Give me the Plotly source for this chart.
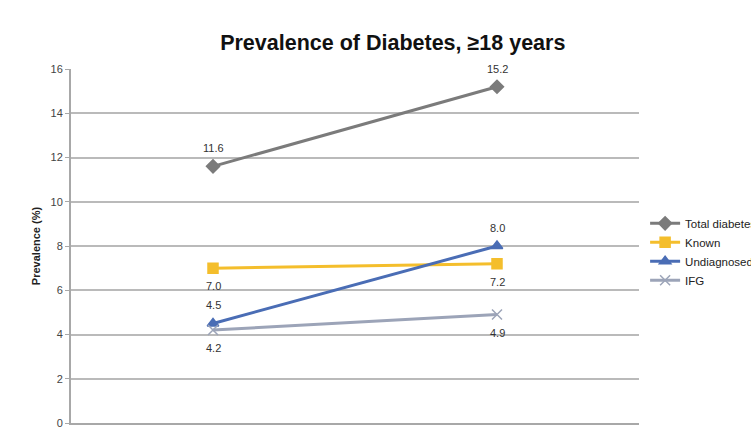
import plotly.graph_objects as go

surveys = ["NHMS III (2006)", "NHMS 2011"]
total_diabetes = [11.6, 15.2]
known = [7.0, 7.2]
undiagnosed = [4.5, 8.0]
ifg = [4.2, 4.9]

# name, values, colour, marker symbol, label above (+1) or below (-1)
series = [
    ("Total diabetes", total_diabetes, "#7b7b7b", "diamond", 1),
    ("Known", known, "#f4be2c", "square", -1),
    ("Undiagnosed", undiagnosed, "#4a6db5", "triangle-up", 1),
    ("IFG", ifg, "#9ca4b8", "x-thin", -1),
]

fig = go.Figure()
annotations = []
for name, vals, color, symbol, side in series:
    fig.add_trace(go.Scatter(
        x=surveys, y=vals, name=name, mode="lines+markers",
        line=dict(color=color, width=3),
        marker=dict(symbol=symbol, size=10, color=color,
                    line=dict(color=color, width=1.5)),
        cliponaxis=False,
    ))
    for s, v in zip(surveys, vals):
        annotations.append(dict(
            x=s, y=v, text=f"{v:.1f}", showarrow=False,
            yshift=18 * side, xanchor="center", yanchor="middle",
            font=dict(family="Liberation Sans, Arial", size=11, color="#333333"),
        ))

fig.update_layout(
    width=751, height=429,
    margin=dict(l=71, r=112, t=69, b=6),
    paper_bgcolor="white", plot_bgcolor="white",
    title=dict(text="<b>Prevalence of Diabetes, ≥18 years</b>",
               x=0.523, xanchor="center", y=0.9, yanchor="middle",
               font=dict(family="Liberation Sans, Arial", size=21.5, color="#111111")),
    font=dict(family="Liberation Sans, Arial", size=11, color="#444444"),
    annotations=annotations,
    showlegend=True,
    legend=dict(xref="container", yref="container", x=0.859, y=0.413,
                xanchor="left", yanchor="middle",
                font=dict(size=11.5, color="#222222"), tracegroupgap=0,
                itemwidth=30, bgcolor="rgba(0,0,0,0)"),
    xaxis=dict(range=[-0.5, 1.5], showgrid=False, showline=True,
               linecolor="#a8a8a8", linewidth=2, ticks="", automargin=False,
               tickfont=dict(size=10, color="#888888")),
    yaxis=dict(range=[0, 16], dtick=2, showgrid=True, gridcolor="#bababa",
               gridwidth=1.5, showline=True, linecolor="#a8a8a8", linewidth=2,
               ticks="outside", ticklen=4, tickcolor="#a8a8a8", automargin=False,
               zeroline=False,
               tickfont=dict(size=11, color="#444444"),
               title=dict(text="<b>Prevalence (%)</b>", standoff=8,
                          font=dict(size=11, color="#222222"))),
)

fig.write_html("out.html")
